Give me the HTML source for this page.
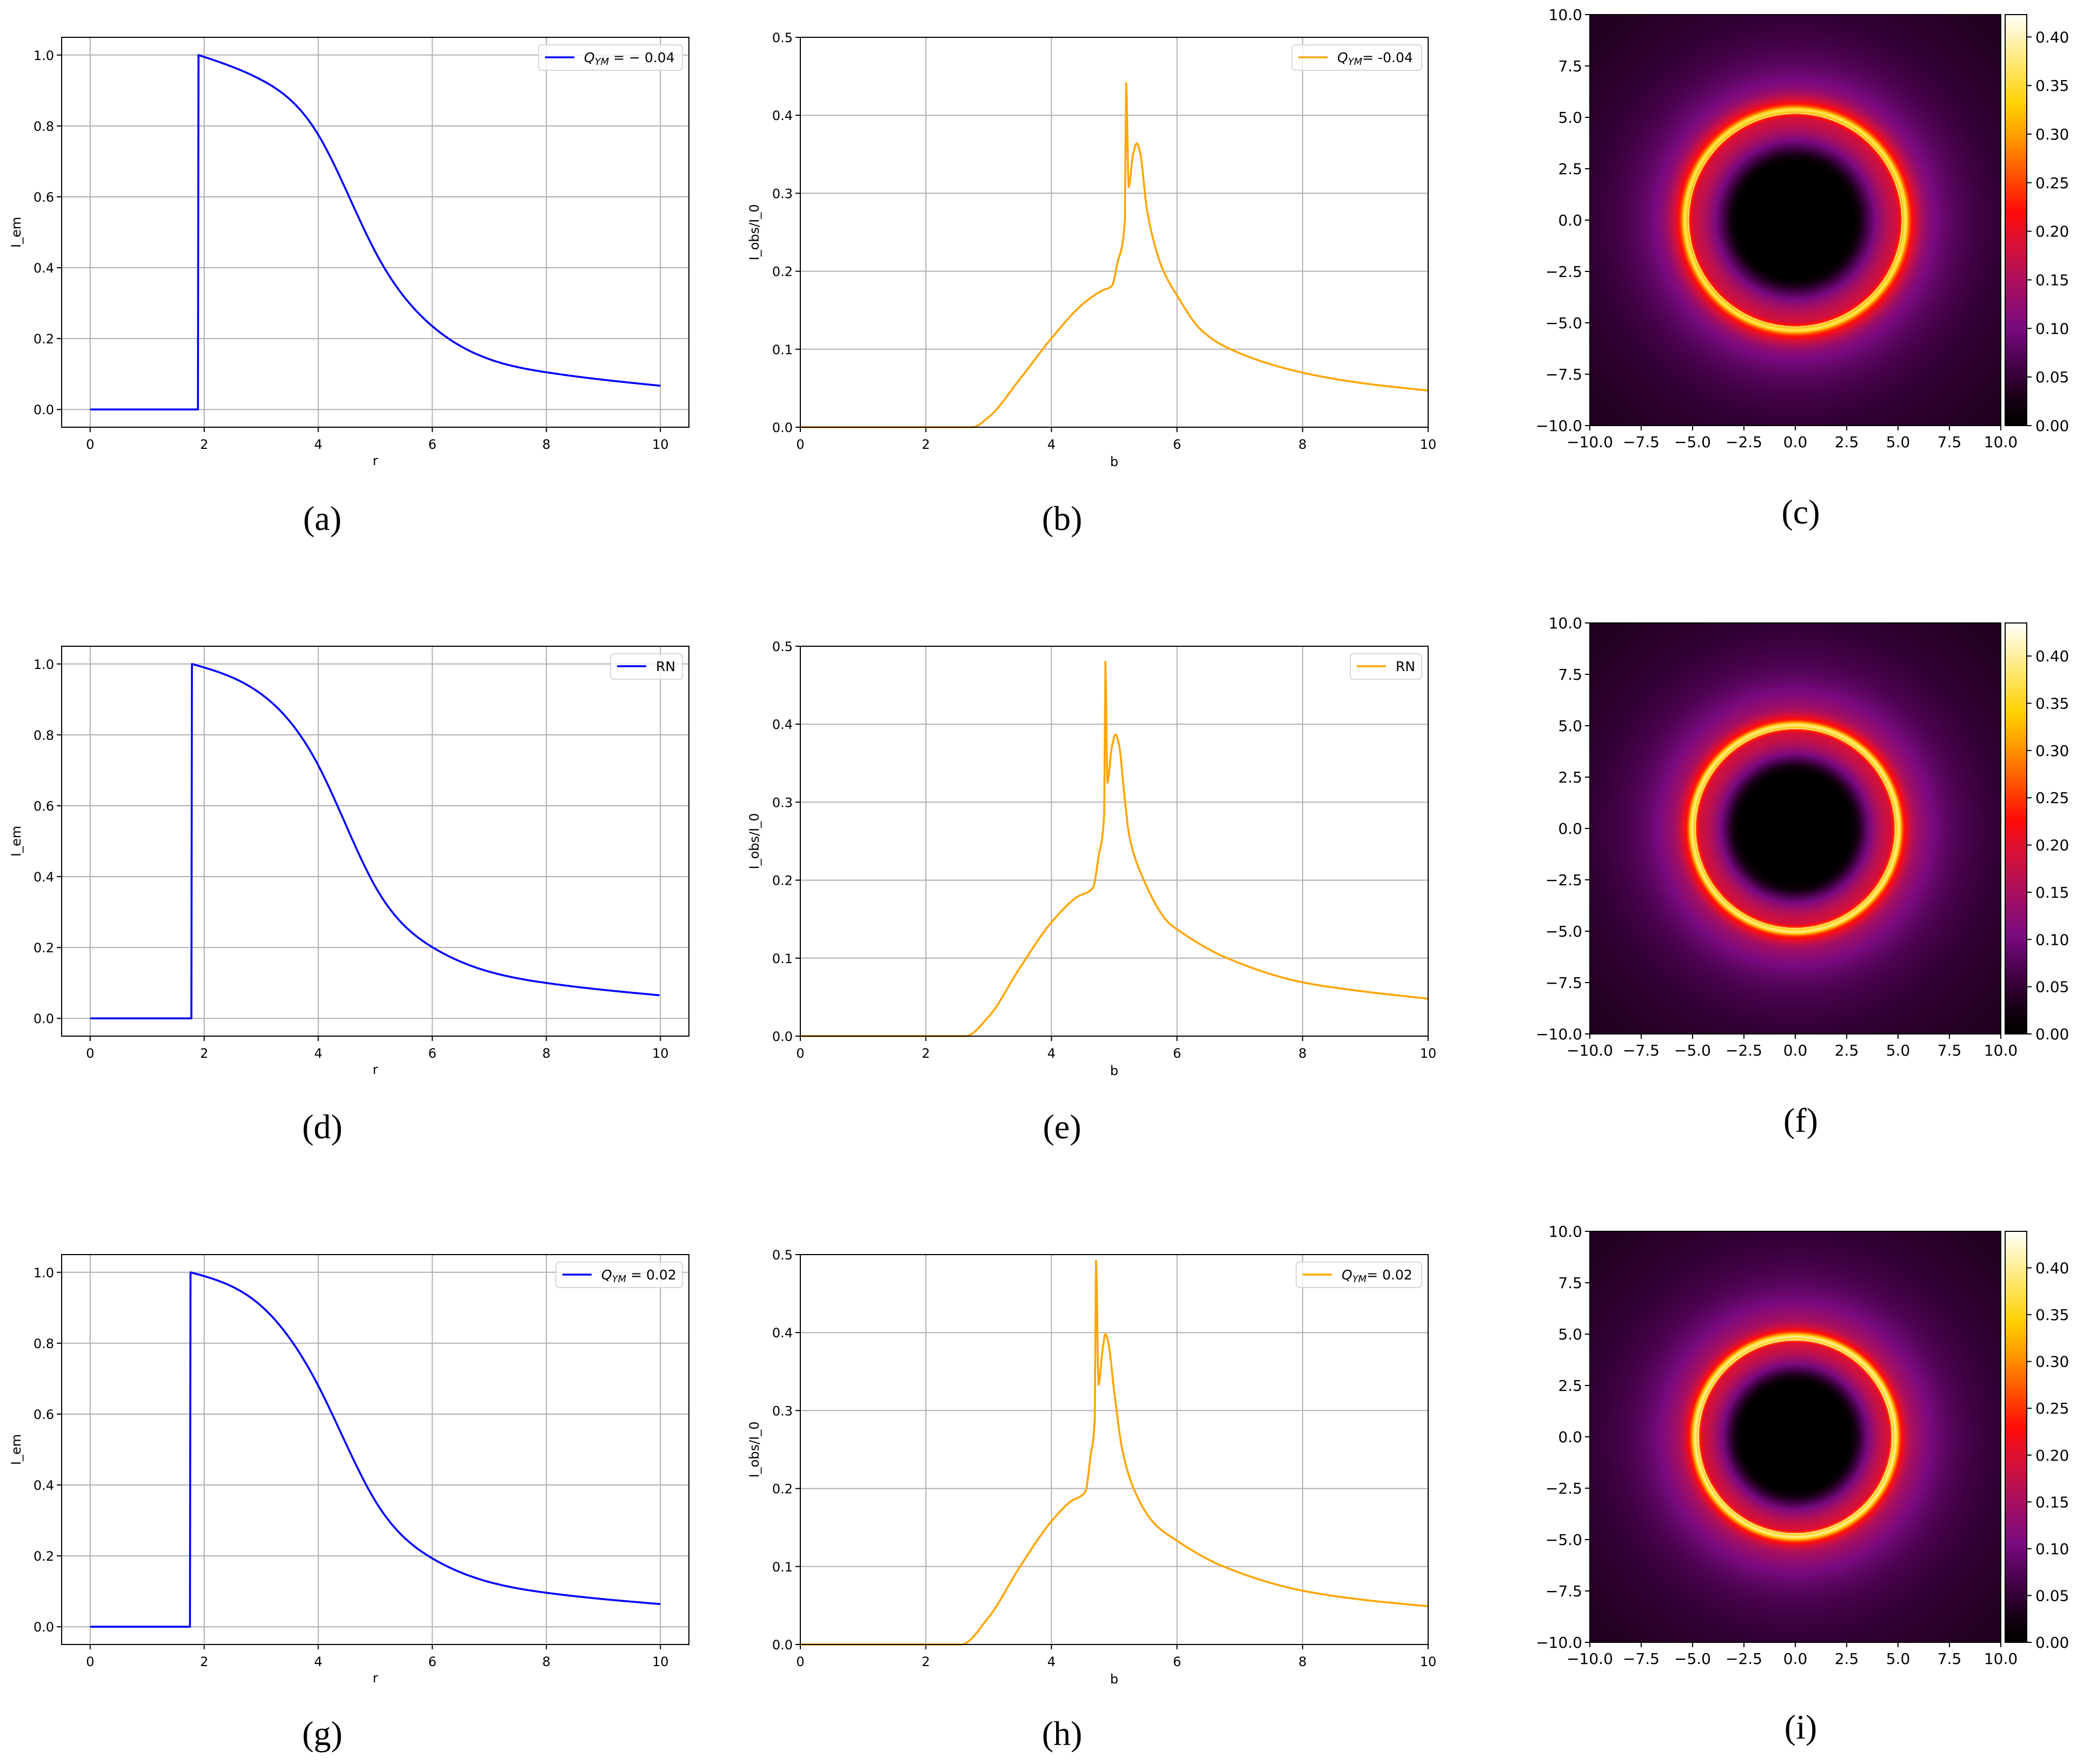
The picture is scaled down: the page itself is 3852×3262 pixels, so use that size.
<!DOCTYPE html>
<html><head><meta charset="utf-8">
<style>
html,body{margin:0;padding:0;background:#fff;}
#wrap{position:relative;width:3852px;height:3262px;overflow:hidden;background:#fff;}
svg{position:absolute;left:0;top:0;}
canvas{position:absolute;}
</style></head>
<body><div id="wrap">
<canvas id="h0" width="760" height="760" style="left:2940px;top:27px"></canvas>
<canvas id="h1" width="760" height="760" style="left:2940px;top:1152px"></canvas>
<canvas id="h2" width="760" height="760" style="left:2940px;top:2277px"></canvas>
<canvas id="c0" width="40" height="760" style="left:3708px;top:27px"></canvas>
<canvas id="c1" width="40" height="760" style="left:3708px;top:1152px"></canvas>
<canvas id="c2" width="40" height="760" style="left:3708px;top:2277px"></canvas>
<svg id="s" width="3852" height="3262" xmlns="http://www.w3.org/2000/svg" font-family="DejaVu Sans, Liberation Sans, sans-serif"></svg>
</div>
<script>
const S=document.getElementById('s');
let out='';
function pchip(xs,ys){const n=xs.length,h=[],d=[],m=new Array(n);
for(let i=0;i<n-1;i++){h[i]=xs[i+1]-xs[i];d[i]=(ys[i+1]-ys[i])/h[i];}
m[0]=d[0];m[n-1]=d[n-2];
for(let i=1;i<n-1;i++){if(d[i-1]*d[i]<=0)m[i]=0;else{const w1=2*h[i]+h[i-1],w2=h[i]+2*h[i-1];m[i]=(w1+w2)/(w1/d[i-1]+w2/d[i]);}}
return function(x){if(x<=xs[0])return ys[0];if(x>=xs[n-1])return ys[n-1];let i=0;while(x>xs[i+1])i++;
const t=(x-xs[i])/h[i],t2=t*t,t3=t2*t;return (2*t3-3*t2+1)*ys[i]+(t3-2*t2+t)*h[i]*m[i]+(-2*t3+3*t2)*ys[i+1]+(t3-t2)*h[i]*m[i+1];};}
function nspline(xs,ys){const n=xs.length,h=[],a=[],b=[],c=[],r=[],M=new Array(n).fill(0);
for(let i=0;i<n-1;i++)h[i]=xs[i+1]-xs[i];
// tridiagonal for M1..M(n-2)
const A=[],Bd=[],C=[],R=[];
for(let i=1;i<n-1;i++){A.push(h[i-1]);Bd.push(2*(h[i-1]+h[i]));C.push(h[i]);R.push(6*((ys[i+1]-ys[i])/h[i]-(ys[i]-ys[i-1])/h[i-1]));}
const m=Bd.length;for(let i=1;i<m;i++){const w=A[i]/Bd[i-1];Bd[i]-=w*C[i-1];R[i]-=w*R[i-1];}
const sol=new Array(m);sol[m-1]=R[m-1]/Bd[m-1];for(let i=m-2;i>=0;i--)sol[i]=(R[i]-C[i]*sol[i+1])/Bd[i];
for(let i=0;i<m;i++)M[i+1]=sol[i];
return function(x){let i=0;while(i<n-2&&x>xs[i+1])i++;const t=x-xs[i],hh=h[i],u=xs[i+1]-x;
return M[i]*u*u*u/(6*hh)+M[i+1]*t*t*t/(6*hh)+(ys[i]/hh-M[i]*hh/6)*u+(ys[i+1]/hh-M[i+1]*hh/6)*t;};}
const EM=[
 {j:1.9,p:[[1.9,1.0],[3,0.93],[4,0.775],[5,0.445],[6,0.235],[8,0.105],[10,0.067]],leg:'m-0.04'},
 {j:1.785,p:[[1.785,1.0],[3,0.915],[4,0.714],[5,0.372],[6,0.201],[8,0.1],[10,0.065]],leg:'RN'},
 {j:1.76,p:[[1.76,1.0],[3,0.905],[4,0.68],[5,0.355],[6,0.193],[8,0.096],[10,0.064]],leg:'m0.02'}];
const OB=[
 [[0,0],[2.74,0],[3.0,0.013],[3.5,0.062],[4,0.114],[4.5,0.158],[4.8,0.175],[4.96,0.181],[5.05,0.21],[5.17,0.266],[5.19,0.441],[5.23,0.308],[5.3,0.35],[5.36,0.364],[5.41,0.353],[5.52,0.28],[5.63,0.238],[5.77,0.203],[6,0.169],[6.38,0.125],[6.8,0.102],[8,0.07],[9,0.056],[10,0.047]],
 [[0,0],[2.63,0],[3.0,0.025],[3.5,0.088],[4,0.146],[4.4,0.178],[4.66,0.19],[4.75,0.23],[4.84,0.285],[4.86,0.48],[4.89,0.325],[4.96,0.37],[5.02,0.387],[5.08,0.372],[5.16,0.31],[5.24,0.257],[5.45,0.204],[5.86,0.146],[6,0.137],[6.8,0.1],[8,0.069],[9,0.057],[10,0.048]],
 [[0,0],[2.56,0],[3.0,0.035],[3.5,0.1],[4,0.158],[4.3,0.183],[4.54,0.196],[4.62,0.24],[4.69,0.29],[4.71,0.492],[4.75,0.333],[4.81,0.375],[4.86,0.398],[4.91,0.385],[5,0.324],[5.13,0.249],[5.31,0.2],[5.63,0.156],[6,0.133],[6.74,0.1],[8,0.069],[9,0.057],[10,0.049]]];
function legendText(k,x,y,spaced){
 if(k==='RN')return `<text x="${x}" y="${y}" font-size="25">RN</text>`;
 const v=k.slice(1);const vs=v.startsWith('-')?(spaced?'\u2212 '+v.slice(1):v):v;
 const eq=spaced?' = ':'= ';
 return `<text x="${x}" y="${y}" font-size="25"><tspan font-style="italic">Q</tspan><tspan font-style="italic" font-size="18" dy="5">YM</tspan><tspan dy="-5">${eq}${vs}</tspan></text>`;}
const TOPS=[69,1195,2320],HT=[27,1152,2277];
const LAB=[['(a)','(b)','(c)'],['(d)','(e)','(f)'],['(g)','(h)','(i)']];
const LABY=[958,2083,3205];
for(let r=0;r<3;r++){
 const T=TOPS[r],B=T+721;
 {const L=114,R=1274,X=v=>L+(v+0.5)/11*(R-L),Y=v=>B-(v+0.05)/1.1*(B-T);
  for(let v=0;v<=10;v+=2){const x=X(v);out+=`<line x1="${x}" y1="${T}" x2="${x}" y2="${B}" stroke="#b0b0b0" stroke-width="2"/><line x1="${x}" y1="${B}" x2="${x}" y2="${B+9}" stroke="#000" stroke-width="2"/><text x="${x}" y="${B+40}" font-size="24" text-anchor="middle">${v}</text>`;}
  for(let i=0;i<=5;i++){const v=i*0.2,y=Y(v);out+=`<line x1="${L}" y1="${y}" x2="${R}" y2="${y}" stroke="#b0b0b0" stroke-width="2"/><line x1="${L-9}" y1="${y}" x2="${L}" y2="${y}" stroke="#000" stroke-width="2"/><text x="${L-14}" y="${y+9}" font-size="24" text-anchor="end">${v.toFixed(1)}</text>`;}
  const e=EM[r],f=nspline(e.p.map(p=>p[0]),e.p.map(p=>p[1]));
  let d=`M${X(0)},${Y(0)} L${X(e.j-0.01)},${Y(0)} L${X(e.j)},${Y(1)}`;
  for(let x=e.j;x<=10.0001;x+=0.02)d+=` L${X(x).toFixed(1)},${Y(f(x)).toFixed(1)}`;
  out+=`<path d="${d}" fill="none" stroke="#0000ff" stroke-width="3.6" stroke-linejoin="round"/>`;
  out+=`<rect x="${L}" y="${T}" width="${R-L}" height="${B-T}" fill="none" stroke="#000" stroke-width="2"/>`;
  const lx=[996,1129,1028][r];
  out+=`<rect x="${lx}" y="${T+14}" width="${1262-lx}" height="47" rx="6" fill="#fff" fill-opacity="0.8" stroke="#d8d8d8" stroke-width="2"/><line x1="${lx+12}" y1="${T+37}" x2="${lx+66}" y2="${T+37}" stroke="#0000ff" stroke-width="3.6"/>`+legendText(e.leg,lx+84,T+46,true);
  out+=`<text x="${(L+R)/2}" y="${B+70}" font-size="24" text-anchor="middle">r</text>`;
  out+=`<text transform="translate(38,${(T+B)/2}) rotate(-90)" font-size="24" text-anchor="middle">I_em</text>`;
 }
 {const L=1480,R=2641,X=v=>L+v/10*(R-L),Y=v=>B-v/0.5*(B-T);
  for(let v=0;v<=10;v+=2){const x=X(v);out+=`<line x1="${x}" y1="${T}" x2="${x}" y2="${B}" stroke="#b0b0b0" stroke-width="2"/><line x1="${x}" y1="${B}" x2="${x}" y2="${B+9}" stroke="#000" stroke-width="2"/><text x="${x}" y="${B+40}" font-size="24" text-anchor="middle">${v}</text>`;}
  for(let i=0;i<=5;i++){const v=i*0.1,y=Y(v);out+=`<line x1="${L}" y1="${y}" x2="${R}" y2="${y}" stroke="#b0b0b0" stroke-width="2"/><line x1="${L-9}" y1="${y}" x2="${L}" y2="${y}" stroke="#000" stroke-width="2"/><text x="${L-14}" y="${y+9}" font-size="24" text-anchor="end">${v.toFixed(1)}</text>`;}
  const pts=OB[r];
  const g=pchip(pts.map(p=>p[0]),pts.map(p=>p[1]));
  let d='';let xs=[];for(let x=0;x<=10.0001;x+=0.01)xs.push(x);pts.forEach(p=>xs.push(p[0]));xs.sort((a,b)=>a-b);
  xs.forEach((x,i)=>{d+=(i?' L':'M')+X(x).toFixed(1)+','+Y(g(x)).toFixed(1);});
  out+=`<path d="${d}" fill="none" stroke="#ffa500" stroke-width="3.6" stroke-linejoin="round"/>`;
  out+=`<rect x="${L}" y="${T}" width="${R-L}" height="${B-T}" fill="none" stroke="#000" stroke-width="2"/>`;
  const lx=[2389,2497,2397][r];
  out+=`<rect x="${lx}" y="${T+14}" width="${2629-lx}" height="47" rx="6" fill="#fff" fill-opacity="0.8" stroke="#d8d8d8" stroke-width="2"/><line x1="${lx+12}" y1="${T+37}" x2="${lx+66}" y2="${T+37}" stroke="#ffa500" stroke-width="3.6"/>`+legendText(EM[r].leg,lx+84,T+46,false);
  out+=`<text x="${(L+R)/2}" y="${B+72}" font-size="24" text-anchor="middle">b</text>`;
  out+=`<text transform="translate(1403,${(T+B)/2}) rotate(-90)" font-size="24" text-anchor="middle">I_obs/I_0</text>`;
 }
 {const L=2940,R=3700,T3=HT[r],B3=T3+760,X=v=>L+(v+10)/20*760,Y=v=>B3-(v+10)/20*760;
  for(let i=0;i<=8;i++){const v=-10+2.5*i,s=(v<0?'\u2212':'')+Math.abs(v).toFixed(1);
   out+=`<line x1="${X(v)}" y1="${B3}" x2="${X(v)}" y2="${B3+9}" stroke="#000" stroke-width="2"/><text x="${X(v)}" y="${B3+40}" font-size="28" text-anchor="middle">${s}</text>`;
   out+=`<line x1="${L-9}" y1="${Y(v)}" x2="${L}" y2="${Y(v)}" stroke="#000" stroke-width="2"/><text x="${L-14}" y="${Y(v)+10}" font-size="28" text-anchor="end">${s}</text>`;}
  out+=`<rect x="${L}" y="${T3}" width="760" height="760" fill="none" stroke="#000" stroke-width="2"/>`;
  const mx=[0.423,0.435,0.439][r];
  for(let i=0;i<=8;i++){const v=i*0.05,y=B3-v/mx*760;out+=`<line x1="3748" y1="${y}" x2="3757" y2="${y}" stroke="#000" stroke-width="2"/><text x="3764" y="${y+10}" font-size="28">${v.toFixed(2)}</text>`;}
  out+=`<rect x="3708" y="${T3}" width="40" height="760" fill="none" stroke="#000" stroke-width="2"/>`;
 }
 const lx=[596,1964,3330];
 for(let c=0;c<3;c++)out+=`<text x="${lx[c]}" y="${LABY[r]+(c==2?-12:0)+22}" font-family="Liberation Serif, DejaVu Serif, serif" font-size="64" text-anchor="middle">${LAB[r][c]}</text>`;
}
S.innerHTML=out;
const ST=[[0,[0,0,0]],[0.06,[20,0,18]],[0.12,[55,0,58]],[0.24,[122,10,128]],[0.36,[176,16,90]],[0.47,[230,16,42]],[0.52,[255,10,10]],[0.6,[255,74,0]],[0.7,[255,154,0]],[0.78,[255,208,0]],[0.88,[255,232,112]],[1,[255,255,250]]];
function cmap(f){f=Math.max(0,Math.min(1,f));for(let i=0;i<ST.length-1;i++){if(f<=ST[i+1][0]){const t=(f-ST[i][0])/(ST[i+1][0]-ST[i][0]),a=ST[i][1],b=ST[i+1][1];return [a[0]+t*(b[0]-a[0]),a[1]+t*(b[1]-a[1]),a[2]+t*(b[2]-a[2])];}}return ST[ST.length-1][1];}
for(let r=0;r<3;r++){
 const mx=[0.423,0.435,0.439][r],pts=OB[r],g=pchip(pts.map(p=>p[0]),pts.map(p=>p[1]));
 const N=4000,tab=new Float32Array(N+1);for(let i=0;i<=N;i++){const rr=i/N*15;tab[i]=rr>10?g(10)*10/rr:g(rr);}
 const cv=document.getElementById('h'+r),ctx=cv.getContext('2d'),im=ctx.createImageData(760,760);
 for(let py=0;py<760;py++)for(let px=0;px<760;px++){const x=(px+0.5)/38-10,y=10-(py+0.5)/38,rr=Math.sqrt(x*x+y*y);
  const v=tab[Math.min(N,Math.round(rr/15*N))];const c=cmap(v/mx),k=(py*760+px)*4;im.data[k]=c[0];im.data[k+1]=c[1];im.data[k+2]=c[2];im.data[k+3]=255;}
 ctx.putImageData(im,0,0);
 const cb=document.getElementById('c'+r),cc=cb.getContext('2d');
 for(let y=0;y<760;y++){const c=cmap(1-y/760);cc.fillStyle=`rgb(${c[0]|0},${c[1]|0},${c[2]|0})`;cc.fillRect(0,y,40,1);}
}
</script>
</body></html>
